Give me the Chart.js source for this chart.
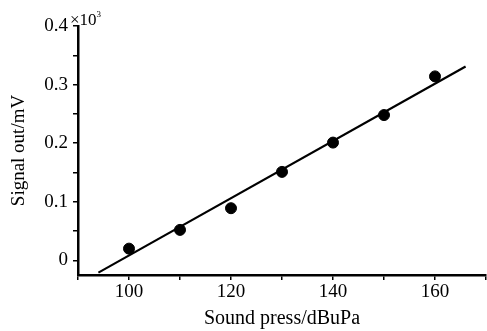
<!DOCTYPE html>
<html>
<head>
<meta charset="utf-8">
<script src="https://cdn.jsdelivr.net/npm/chart.js@4/dist/chart.umd.min.js"></script>
<style>
	body { margin: 0; background: #fff; }
	#wrap { width: 487px; height: 331px; }
</style>
</head>
<body>
<div id="wrap"><canvas id="c" width="487" height="331"></canvas></div>
<script>
// measured points
const soundPress = [100, 110, 120, 130, 140, 150, 160]
const signalOut = [0.02, 0.052, 0.089, 0.151, 0.201, 0.248, 0.314]

// fitted line, ends
const fitX = [94, 166]
const fitY = [-0.021, 0.331]

// tick values
const xTicks = [90, 100, 110, 120, 130, 140, 150, 160, 170]
const xLabels = [100, 120, 140, 160]
const yTicks = [0, 0.05, 0.1, 0.15, 0.2, 0.25, 0.3, 0.35, 0.4]
const yLabels = [0, 0.1, 0.2, 0.3, 0.4]

const serif = 'Liberation Serif'

// ×10³ over the y axis
const expLabel = {
	id: 'expLabel',
	afterDraw(chart) {
		const ctx = chart.ctx
		const y = chart.scales.y
		ctx.save()
		ctx.fillStyle = '#000'
		ctx.textBaseline = 'alphabetic'
		ctx.font = '17px "' + serif + '"'
		const x0 = y.right - 8
		ctx.fillText('\u00d710', x0, 25)
		const w = ctx.measureText('\u00d710').width
		ctx.font = '9px "' + serif + '"'
		ctx.fillText('3', x0 + w, 17)
		ctx.restore()
	}
}

new Chart(document.getElementById('c'), {
	data: {
		datasets: [
			{
				type: 'line',
				data: fitX.map((x, i) => ({ x: x, y: fitY[i] })),
				borderColor: '#000',
				borderWidth: 2.2,
				pointRadius: 0,
				fill: false
			},
			{
				type: 'scatter',
				data: soundPress.map((x, i) => ({ x: x, y: signalOut[i] })),
				backgroundColor: '#000',
				borderColor: '#000',
				pointRadius: 5.5,
				pointHoverRadius: 5.5
			}
		]
	},
	options: {
		responsive: false,
		animation: false,
		layout: { autoPadding: false, padding: { top: 26, right: 1, left: 0, bottom: 0 } },
		plugins: {
			legend: { display: false },
			tooltip: { enabled: false }
		},
		scales: {
			x: {
				type: 'linear',
				min: 90,
				max: 170,
				afterBuildTicks: (axis) => { axis.ticks = xTicks.map(v => ({ value: v })) },
				afterFit: (axis) => { axis.height = 56 },
				border: { display: true, color: '#000', width: 2.5 },
				grid: { drawOnChartArea: false, drawTicks: true, tickLength: 5, color: '#000', lineWidth: 1.5 },
				ticks: {
					color: '#000',
					font: { family: serif, size: 19 },
					padding: 1,
					maxRotation: 0,
					autoSkip: false,
					callback: (v) => xLabels.includes(v) ? String(v) : ''
				},
				title: {
					display: true,
					text: 'Sound press/dBuPa',
					color: '#000',
					font: { family: serif, size: 20 },
					padding: { top: 0, bottom: 0 }
				}
			},
			y: {
				type: 'linear',
				min: -0.025,
				max: 0.4,
				afterBuildTicks: (axis) => { axis.ticks = yTicks.map(v => ({ value: v })) },
				afterFit: (axis) => { axis.width = 78 },
				border: { display: true, color: '#000', width: 2.5 },
				grid: { drawOnChartArea: false, drawTicks: true, tickLength: 5, color: '#000', lineWidth: 1.5 },
				ticks: {
					color: '#000',
					font: { family: serif, size: 19 },
					padding: 5,
					autoSkip: false,
					callback: (v) => {
						const hit = yLabels.find(l => Math.abs(l - v) < 1e-9)
						if (hit === undefined) return ''
						return hit === 0 ? '0' : hit.toFixed(1)
					}
				},
				title: {
					display: true,
					text: 'Signal out/mV',
					color: '#000',
					font: { family: serif, size: 19 },
					padding: { top: 8, bottom: 0 }
				}
			}
		}
	},
	plugins: [expLabel]
})
</script>
</body>
</html>
